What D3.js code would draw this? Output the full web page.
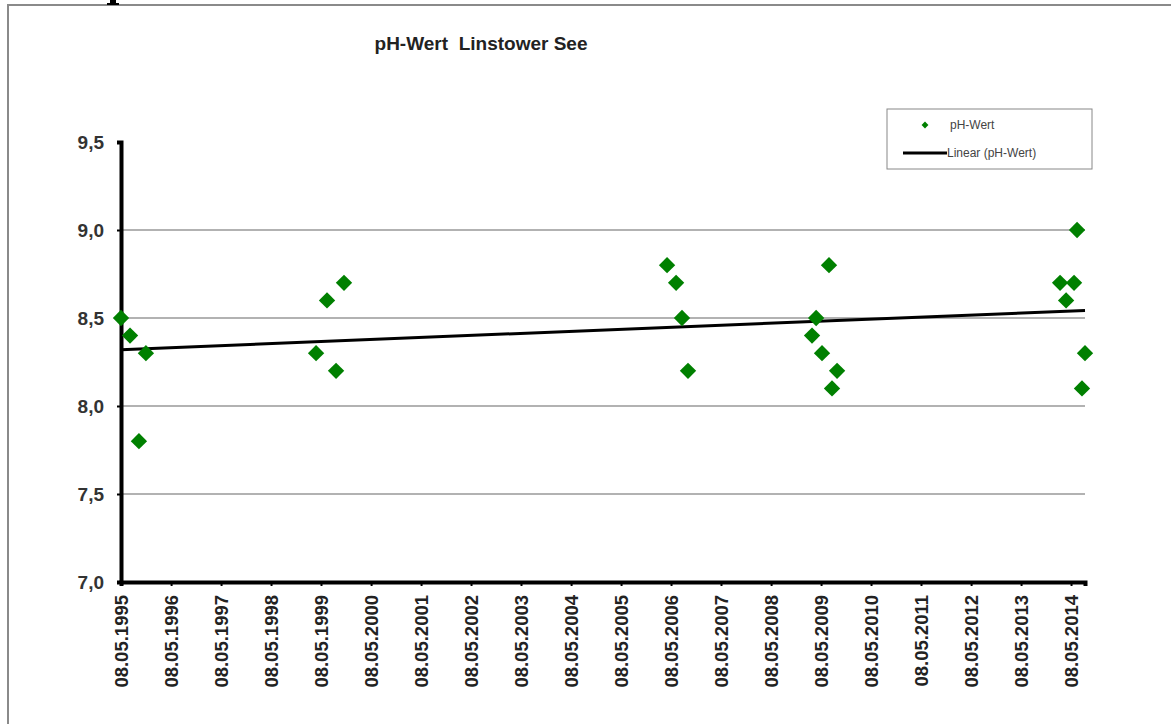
<!DOCTYPE html>
<html><head><meta charset="utf-8">
<script src="https://cdn.jsdelivr.net/npm/d3@7"></script>
<style>html,body{margin:0;padding:0;background:#fff;}svg{display:block;}</style>
</head><body>
<svg id="c" width="1171" height="724"></svg>
<script>
const title = "pH-Wert  Linstower See";
const seriesName = "pH-Wert";
const trendName = "Linear (pH-Wert)";
const sampleDates = ["1995-05-08","1995-07-13","1995-09-16","1995-11-06",
  "1999-04-02","1999-06-21","1999-08-26","1999-10-23",
  "2006-04-09","2006-06-14","2006-07-27","2006-09-09",
  "2009-03-03","2009-04-02","2009-05-15","2009-07-05","2009-07-27","2009-09-02",
  "2014-02-17","2014-04-02","2014-05-30","2014-06-21","2014-07-27","2014-08-18"];
const phValues = [8.5,8.4,7.8,8.3,
  8.3,8.6,8.2,8.7,
  8.8,8.7,8.5,8.2,
  8.4,8.5,8.3,8.8,8.1,8.2,
  8.7,8.6,8.7,9.0,8.1,8.3];
const tickDates = ["1995-05-08","1996-05-08","1997-05-08","1998-05-08","1999-05-08","2000-05-08","2001-05-08","2002-05-08","2003-05-08","2004-05-08","2005-05-08","2006-05-08","2007-05-08","2008-05-08","2009-05-08","2010-05-08","2011-05-08","2012-05-08","2013-05-08","2014-05-08"];
const tickLabels = ["08.05.1995","08.05.1996","08.05.1997","08.05.1998","08.05.1999","08.05.2000","08.05.2001","08.05.2002","08.05.2003","08.05.2004","08.05.2005","08.05.2006","08.05.2007","08.05.2008","08.05.2009","08.05.2010","08.05.2011","08.05.2012","08.05.2013","08.05.2014"];
const yTicks = [7.0,7.5,8.0,8.5,9.0,9.5];

const parse = d3.utcParse("%Y-%m-%d");
const data = sampleDates.map((d,i)=>({date:parse(d), v:phValues[i]}));
const ticks = tickDates.map(parse);

const svg = d3.select("#c");
const L=121, R=1085, T=142, B=582;
const x = d3.scaleUtc().domain([parse("1995-05-08"), d3.max(data,d=>d.date)]).range([L,R]);
const y = d3.scaleLinear().domain([7,9.5]).range([B,T]);
const green = "#008000";

// frame
svg.append("path").attr("d","M8,724 V5 H1171").attr("fill","none").attr("stroke","#8a8a8a").attr("stroke-width",2);
// cut-off glyph fragment at very top (decoration)
svg.append("path").attr("d","M110,0 H116 V3 H119 V5 H107 V3 H110 Z").attr("fill","#000");

// title
svg.append("text").attr("x",481).attr("y",50).attr("text-anchor","middle").style("white-space","pre")
  .attr("font-family","Liberation Sans, Arial, sans-serif").attr("font-weight","bold").attr("font-size",19)
  .attr("fill","#222").text(title);

// grid
svg.append("g").selectAll("line").data(yTicks.filter(t=>t>7 && t<9.5)).join("line")
  .attr("x1",L).attr("x2",R).attr("y1",d=>y(d)).attr("y2",d=>y(d))
  .attr("stroke","#999").attr("stroke-width",1.5);

// y axis
const yAxis = d3.axisLeft(y).tickValues(yTicks).tickSize(4).tickFormat(d=>d3.format(".1f")(d).replace(".",","));
const gy = svg.append("g").attr("transform",`translate(${L},0)`).call(yAxis);
gy.select(".domain").attr("stroke","#000").attr("stroke-width",4);
gy.selectAll(".tick line").attr("stroke","#000").attr("stroke-width",2);
gy.selectAll(".tick text").attr("x",-17).attr("font-family","Liberation Sans, Arial, sans-serif")
  .attr("font-weight","bold").attr("font-size",19).attr("fill","#333");

// x axis
const xAxis = d3.axisBottom(x).tickValues(ticks).tickSize(4).tickFormat((d,i)=>tickLabels[i]);
const gx = svg.append("g").attr("transform",`translate(0,${B})`).call(xAxis);
gx.select(".domain").attr("stroke","#000").attr("stroke-width",4);
gx.selectAll(".tick line").attr("stroke","#000").attr("stroke-width",2);
gx.selectAll(".tick text").attr("transform","rotate(-90)").attr("x",-13).attr("y",0).attr("dy","0.35em")
  .attr("text-anchor","end").attr("font-family","Liberation Sans Narrow, Arial Narrow, Liberation Sans, sans-serif")
  .attr("font-weight","bold").attr("font-size",18.5).attr("fill","#222");

// trendline (least squares)
const xs = data.map(d=>+d.date), ys = data.map(d=>d.v);
const mx = d3.mean(xs), my = d3.mean(ys);
const slope = d3.sum(xs.map((xv,i)=>(xv-mx)*(ys[i]-my)))/d3.sum(xs.map(xv=>(xv-mx)*(xv-mx)));
const icpt = my - slope*mx;
const ext = d3.extent(xs);
svg.append("line").attr("x1",x(ext[0])).attr("x2",x(ext[1]))
  .attr("y1",y(icpt+slope*ext[0])).attr("y2",y(icpt+slope*ext[1]))
  .attr("stroke","#000").attr("stroke-width",3);

// points
const diamond = d3.symbol().type(d3.symbolDiamond2).size(170);
svg.append("g").selectAll("path").data(data).join("path")
  .attr("d",diamond).attr("transform",d=>`translate(${x(d.date)},${y(d.v)})`)
  .attr("fill",green);

// legend
const lg = svg.append("g");
lg.append("rect").attr("x",887).attr("y",109).attr("width",205).attr("height",60).attr("fill","#fff").attr("stroke","#888").attr("stroke-width",1);
lg.append("path").attr("d",d3.symbol().type(d3.symbolDiamond2).size(30)).attr("transform","translate(925,125)").attr("fill",green);
lg.append("text").attr("x",950).attr("y",129).attr("font-family","Liberation Sans, Arial, sans-serif").attr("font-size",12).attr("fill","#444").text(seriesName);
lg.append("line").attr("x1",903).attr("x2",947).attr("y1",153).attr("y2",153).attr("stroke","#000").attr("stroke-width",3);
lg.append("text").attr("x",947).attr("y",157).attr("font-family","Liberation Sans, Arial, sans-serif").attr("font-size",12).attr("fill","#444").text(trendName);
</script>
</body></html>
